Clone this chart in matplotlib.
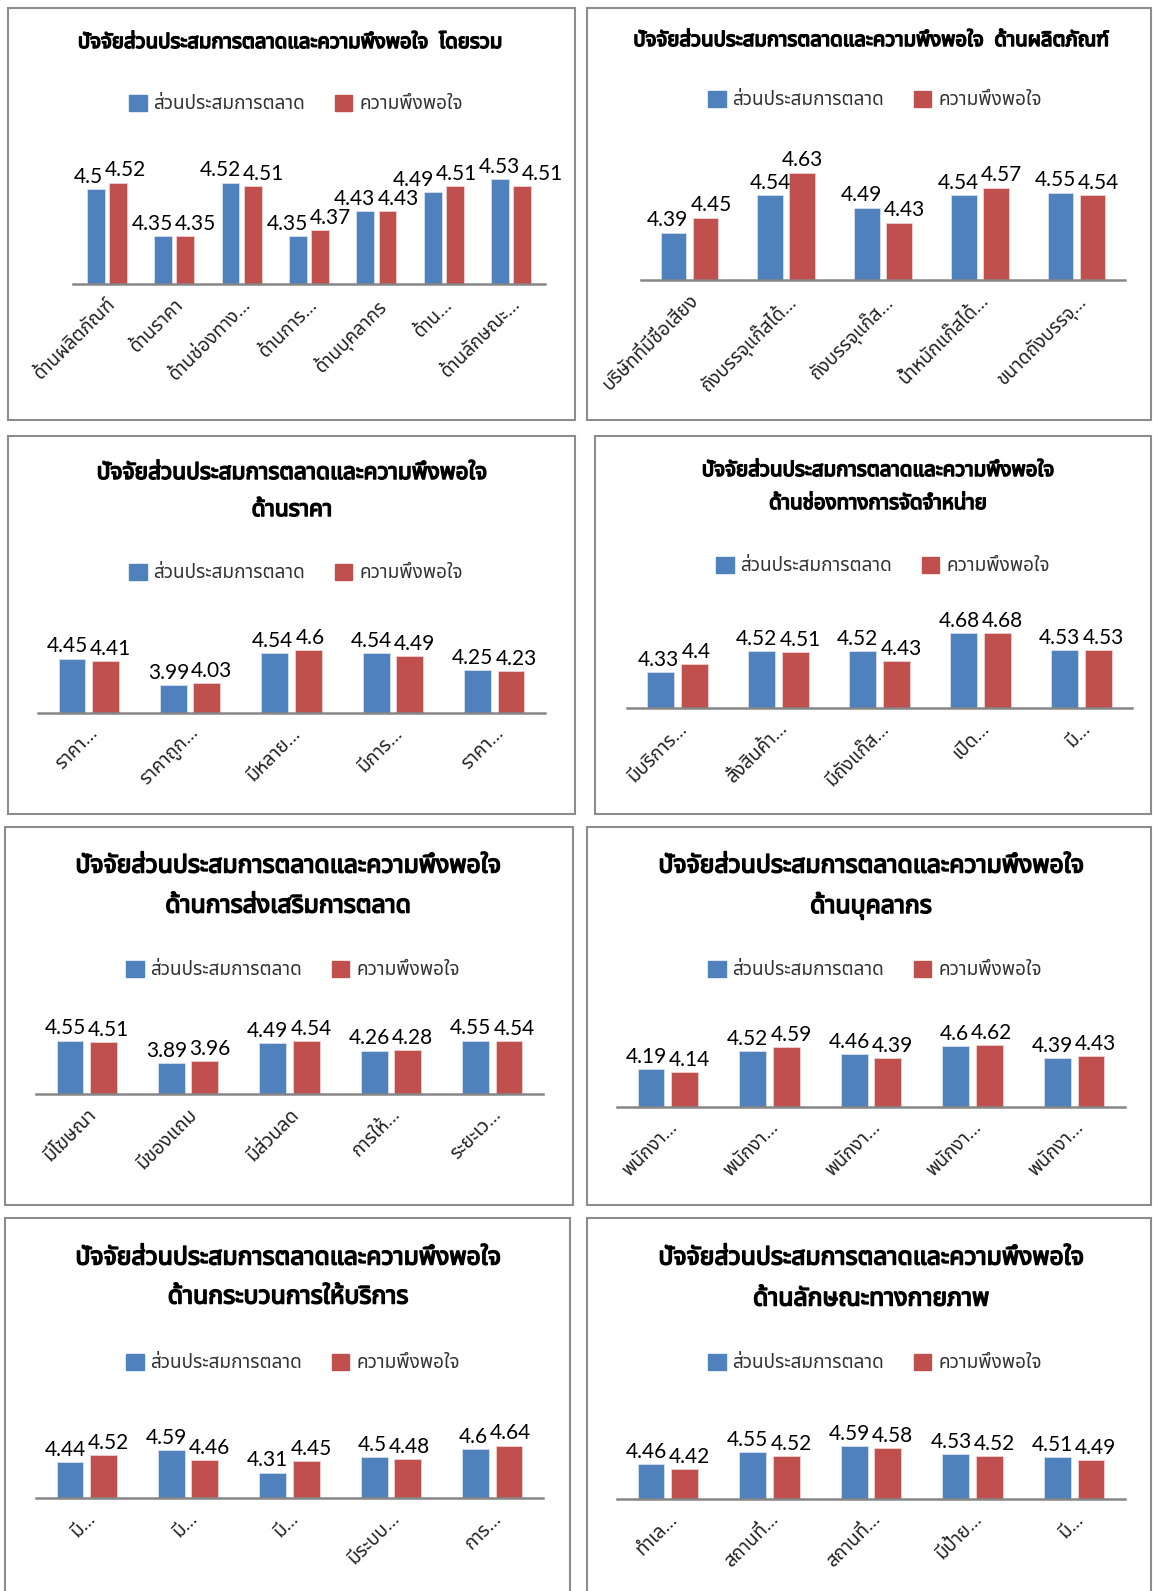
import matplotlib
matplotlib.use('Agg')
import matplotlib.pyplot as plt
import matplotlib.patheffects as pe
from matplotlib import font_manager
from matplotlib.ft2font import FT2Font
from matplotlib.patches import Rectangle, Patch
import numpy as np

W, H = 1153, 1591
BLUE = '#4F81BD'
RED = '#C0504D'

# ---- data ----
series_names = ['ส่วนประสมการตลาด', 'ความพึงพอใจ']
title_main = 'ปัจจัยส่วนประสมการตลาดและความพึงพอใจ'

overall_title = 'โดยรวม'
overall_cats = ['ด้านผลิตภัณฑ์', 'ด้านราคา', 'ด้านช่องทาง…', 'ด้านการ…', 'ด้านบุคลากร', 'ด้าน…', 'ด้านลักษณะ…']
overall_mix = [4.5, 4.35, 4.52, 4.35, 4.43, 4.49, 4.53]
overall_sat = [4.52, 4.35, 4.51, 4.37, 4.43, 4.51, 4.51]

product_title = 'ด้านผลิตภัณฑ์'
product_cats = ['บริษัทที่มีชื่อเสียง', 'ถังบรรจุแก๊สได้…', 'ถังบรรจุแก๊ส…', 'น้ำหนักแก๊สได้…', 'ขนาดถังบรรจุ…']
product_mix = [4.39, 4.54, 4.49, 4.54, 4.55]
product_sat = [4.45, 4.63, 4.43, 4.57, 4.54]

price_title = 'ด้านราคา'
price_cats = ['ราคา…', 'ราคาถูก…', 'มีหลาย…', 'มีการ…', 'ราคา…']
price_mix = [4.45, 3.99, 4.54, 4.54, 4.25]
price_sat = [4.41, 4.03, 4.6, 4.49, 4.23]

place_title = 'ด้านช่องทางการจัดจำหน่าย'
place_cats = ['มีบริการ…', 'สั่งสินค้า…', 'มีถังแก๊ส…', 'เปิด…', 'มี…']
place_mix = [4.33, 4.52, 4.52, 4.68, 4.53]
place_sat = [4.4, 4.51, 4.43, 4.68, 4.53]

promo_title = 'ด้านการส่งเสริมการตลาด'
promo_cats = ['มีโฆษณา', 'มีของแถม', 'มีส่วนลด', 'การให้…', 'ระยะเว…']
promo_mix = [4.55, 3.89, 4.49, 4.26, 4.55]
promo_sat = [4.51, 3.96, 4.54, 4.28, 4.54]

people_title = 'ด้านบุคลากร'
people_cats = ['พนักงา…', 'พนักงา…', 'พนักงา…', 'พนักงา…', 'พนักงา…']
people_mix = [4.19, 4.52, 4.46, 4.6, 4.39]
people_sat = [4.14, 4.59, 4.39, 4.62, 4.43]

process_title = 'ด้านกระบวนการให้บริการ'
process_cats = ['มี…', 'มี…', 'มี…', 'มีระบบ…', 'การ…']
process_mix = [4.44, 4.59, 4.31, 4.5, 4.6]
process_sat = [4.52, 4.46, 4.45, 4.48, 4.64]

phys_title = 'ด้านลักษณะทางกายภาพ'
phys_cats = ['ทำเล…', 'สถานที่…', 'สถานที่…', 'มีป้าย…', 'มี…']
phys_mix = [4.46, 4.55, 4.59, 4.53, 4.51]
phys_sat = [4.42, 4.52, 4.58, 4.52, 4.49]


# ---- find a font with Thai glyphs ----
def find_thai_font():
    prefer = ['Noto Sans Thai', 'Noto Sans Thai Looped', 'Tahoma', 'Leelawadee UI', 'Garuda',
              'Loma', 'Sarabun', 'Norasi', 'Tlwg Typo', 'Umpush', 'Kinnari', 'Laksaman']
    found = []
    for f in font_manager.fontManager.ttflist:
        try:
            cm = FT2Font(f.fname).get_charmap()
        except Exception:
            continue
        if 0x0E01 in cm and 0x0E31 in cm:
            found.append(f.name)
    for p in prefer:
        if p in found:
            return p
    return found[0] if found else 'DejaVu Sans'


thai = find_thai_font()
FAM = [thai, 'DejaVu Sans']
NUMFAM = ['Lato', 'DejaVu Sans']
plt.rcParams['font.family'] = FAM

fig = plt.figure(figsize=(W / 100, H / 100), dpi=100)
renderer = fig.canvas.get_renderer()


def fit_size(text, target_px, weight='normal'):
    t = fig.text(0, 0, text, fontsize=10, family=FAM, weight=weight)
    w = t.get_window_extent(renderer).width
    t.remove()
    return 10 * target_px / w


leg_fs = fit_size(series_names[0], 152)
bold_fx = [pe.withStroke(linewidth=1.1, foreground='black')]

# layout in pixels: frame (x0,y0,x1,y1), title center x, title line ys, title width,
# legend center, axes x0,x1, baseline, height px, ylim
panels = [
    dict(title=[title_main + '  ' + overall_title], cats=overall_cats, mix=overall_mix, sat=overall_sat,
         frame=(8, 8, 575, 420), tx=290, ty=[43], tw=350, leg=(296, 104),
         ax=(73, 545, 284, 111), ylim=(4.2, 4.55)),
    dict(title=[title_main + '  ' + product_title], cats=product_cats, mix=product_mix, sat=product_sat,
         frame=(587, 8, 1151, 420), tx=871, ty=[41], tw=350, leg=(875, 100),
         ax=(641, 1125, 280, 125), ylim=(4.2, 4.7)),
    dict(title=[title_main, price_title], cats=price_cats, mix=price_mix, sat=price_sat,
         frame=(8, 436, 575, 814), tx=292, ty=[473, 510], tw=390, leg=(296, 573),
         ax=(38, 545, 713, 74.5), ylim=(3.5, 4.8)),
    dict(title=[title_main, place_title], cats=place_cats, mix=place_mix, sat=place_sat,
         frame=(595, 436, 1151, 814), tx=878, ty=[471, 504], tw=352, leg=(883, 566),
         ax=(627, 1132, 708, 88), ylim=(4.0, 4.8)),
    dict(title=[title_main, promo_title], cats=promo_cats, mix=promo_mix, sat=promo_sat,
         frame=(5, 827, 573, 1205), tx=288, ty=[866, 906], tw=425, leg=(293, 970),
         ax=(36, 543, 1094, 69), ylim=(3.0, 5.0)),
    dict(title=[title_main, people_title], cats=people_cats, mix=people_mix, sat=people_sat,
         frame=(587, 827, 1151, 1205), tx=871, ty=[866, 906], tw=425, leg=(875, 970),
         ax=(617, 1125, 1107, 71.5), ylim=(3.5, 4.8)),
    dict(title=[title_main, process_title], cats=process_cats, mix=process_mix, sat=process_sat,
         frame=(5, 1218, 570, 1600), tx=288, ty=[1258, 1297], tw=425, leg=(293, 1363),
         ax=(36, 543, 1498, 65.6), ylim=(4.0, 4.8)),
    dict(title=[title_main, phys_title], cats=phys_cats, mix=phys_mix, sat=phys_sat,
         frame=(587, 1218, 1151, 1600), tx=871, ty=[1258, 1299], tw=425, leg=(875, 1363),
         ax=(617, 1125, 1499, 67.5), ylim=(4.2, 4.7)),
]

bw = 0.265
off = 0.165
lift = 1.5  # points above bar top
px2pt = 72 / 100
gap = 2  # px between neighbouring value labels

for p in panels:
    x0, y0, x1, y1 = p['frame']
    fig.patches.append(Rectangle((x0 / W, 1 - y1 / H), (x1 - x0) / W, (y1 - y0) / H,
                                 transform=fig.transFigure, fill=False,
                                 edgecolor='#8c8c8c', linewidth=1.5, zorder=-1))
    tfs = fit_size(title_main, p['tw'], weight='bold')
    for line, ty in zip(p['title'], p['ty']):
        fig.text(p['tx'] / W, 1 - ty / H, line, ha='center', va='center',
                 fontsize=tfs, weight='bold', family=FAM, color='black', path_effects=bold_fx)

    ax0, ax1, base, hpx = p['ax']
    ax = fig.add_axes([ax0 / W, 1 - base / H, (ax1 - ax0) / W, hpx / H])
    ax.set_facecolor('none')
    n = len(p['cats'])
    xs = np.arange(n)
    b1 = ax.bar(xs - off, p['mix'], bw, color=BLUE, edgecolor='#d6e0ee', linewidth=0.6)
    b2 = ax.bar(xs + off, p['sat'], bw, color=RED, edgecolor='#f0d2d1', linewidth=0.6)
    ax.set_xlim(-0.5, n - 0.5)
    ax.set_ylim(*p['ylim'])

    # value labels, left to right
    labels = []
    for i in range(n):
        for r, v in ((b1[i], p['mix'][i]), (b2[i], p['sat'][i])):
            a = ax.annotate(f'{v:g}', (r.get_x() + r.get_width() / 2, v), xytext=(0, lift),
                            textcoords='offset points', ha='center', va='bottom',
                            fontsize=15, family=NUMFAM, color='black', annotation_clip=False)
            labels.append(a)
    # push colliding neighbours apart (pairs in one group always, across groups only
    # when the digits really meet)
    shift = [0.0] * len(labels)
    for _ in range(6):
        moved = False
        for k in range(len(labels) - 1):
            ea = labels[k].get_window_extent(renderer)
            eb = labels[k + 1].get_window_extent(renderer)
            need_y = 0 if k % 2 == 0 else 5
            yov = min(ea.y1, eb.y1) - max(ea.y0, eb.y0)
            ov = ea.x1 - eb.x0 + gap
            if ov > 0.2 and yov > need_y:
                shift[k] -= ov / 2
                shift[k + 1] += ov / 2
                labels[k].xyann = (shift[k] * px2pt, lift)
                labels[k + 1].xyann = (shift[k + 1] * px2pt, lift)
                moved = True
        if not moved:
            break

    for s in ['top', 'left', 'right']:
        ax.spines[s].set_visible(False)
    ax.spines['bottom'].set_color('#868686')
    ax.spines['bottom'].set_linewidth(1.8)
    ax.set_yticks([])
    ax.set_xticks(xs)
    ax.set_xticklabels(p['cats'], rotation=45, ha='right', va='top', rotation_mode='anchor',
                       fontsize=leg_fs, family=FAM, color='#222222')
    ax.tick_params(axis='x', length=0, pad=8)

    lx, ly = p['leg']
    handles = [Patch(facecolor=BLUE, edgecolor=BLUE), Patch(facecolor=RED, edgecolor=RED)]
    fig.legend(handles, series_names, loc='center', bbox_to_anchor=(lx / W, 1 - ly / H),
               ncol=2, frameon=False, prop=dict(family=FAM, size=leg_fs),
               handlelength=0.9, handleheight=0.9, handletextpad=0.35, columnspacing=1.6,
               labelcolor='#333333')

fig.savefig('out.png', dpi=100)
